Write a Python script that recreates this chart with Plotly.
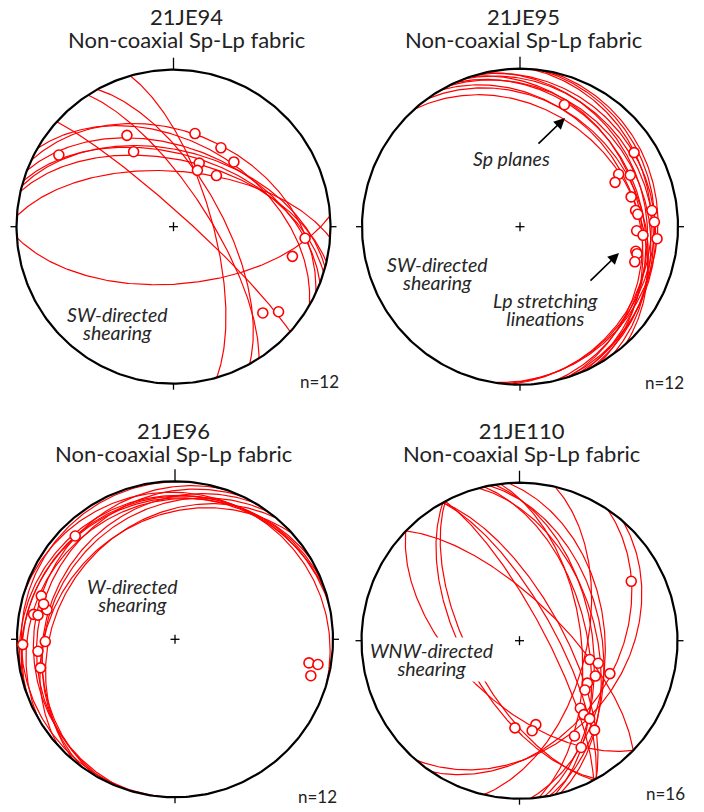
import numpy as np
import plotly.graph_objects as go

W, H = 704, 812

# ---------------- data (Sp planes: strike RHR / dip ; Lp lineations: trend / plunge) -------------
p1_name = "21JE94"
p1_sp_strike = [86, 274, 312, 344, 331, 327, 300, 291, 287, 283, 295, 285]
p1_sp_dip = [60, 61, 83, 70, 65, 72, 45, 48, 52, 55, 40, 50]
p1_lp_trend = [333, 13, 302, 332, 31, 43, 22, 23, 40, 95, 104, 134, 129]
p1_lp_plunge = [35, 39, 15, 45, 41, 43, 54, 58, 55, 17, 23, 22, 15]
p1_n = "n=12"

p2_name = "21JE95"
p2_sp_strike = [318, 324, 330, 333, 336, 339, 342, 344, 347, 4, 7, 10]
p2_sp_dip = [30, 26, 28, 21, 24, 18, 25, 16, 21, 18, 16, 14]
p2_lp_trend = [20, 57, 62, 65, 65, 75, 82, 84, 83, 88, 92, 94, 95, 102, 103, 107]
p2_lp_plunge = [19, 15, 30, 34, 24, 28, 27, 26, 17, 16, 27, 23, 14, 26, 25, 25]
p2_n = "n=12"

p3_name = "21JE96"
p3_sp_strike = [184, 198, 205, 210, 216, 220, 228, 249, 253, 258, 287, 240]
p3_sp_dip = [3, 12, 15, 20, 22, 27, 26, 11, 12, 10, 8, 14]
p3_lp_trend = [268, 265, 269, 258, 288, 283, 285, 280, 280, 316, 100, 100, 105]
p3_lp_plunge = [4, 14, 19, 14, 12, 18, 15, 10, 13, 10, 15, 9, 12]
p3_n = "n=12"

p4_name = "21JE110"
p4_sp_strike = [314, 134, 151, 152, 331, 331, 332, 345, 347, 349, 351, 353, 356, 13, 34, 41]
p4_sp_dip = [69, 58, 61, 64, 68, 72, 77, 50, 55, 47, 52, 58, 45, 55, 39, 35]
p4_lp_trend = [62, 105, 106, 110, 115, 122, 127, 138, 139, 138, 140, 150, 150, 183, 169, 172]
p4_lp_plunge = [21, 52, 47, 39, 46, 48, 47, 42, 38, 34, 27, 31, 23, 44, 45, 42]
p4_n = "n=16"

subtitle = "Non-coaxial Sp-Lp fabric"

# ---------------- projection helpers (equal-area, lower hemisphere) -------------
SQ2 = np.sqrt(2.0)


def proj_line(trend, plunge):
    t = np.radians(np.asarray(trend, float))
    p = np.radians(np.asarray(plunge, float))
    r = SQ2 * np.sin((np.pi / 2 - p) / 2)
    return r * np.sin(t), r * np.cos(t)


def proj_plane(strike, dip, n=181):
    s = np.radians(strike)
    dd = s + np.pi / 2
    d = np.radians(dip)
    rake = np.linspace(0, np.pi, n)
    sv = np.array([np.cos(s), np.sin(s), 0.0])
    dv = np.array([np.cos(dd) * np.cos(d), np.sin(dd) * np.cos(d), np.sin(d)])
    v = np.outer(np.cos(rake), sv) + np.outer(np.sin(rake), dv)
    down = np.clip(v[:, 2], -1, 1)
    plunge = np.degrees(np.arcsin(down))
    trend = np.degrees(np.arctan2(v[:, 1], v[:, 0]))
    return proj_line(trend, plunge)


# ---------------- layout geometry (pixels) -------------
panels = [
    dict(name=p1_name, strike=p1_sp_strike, dip=p1_sp_dip, trend=p1_lp_trend, plunge=p1_lp_plunge,
         n=p1_n, cx=173.5, cy=226.7, R=157, box=(0, 352, 45, 400),
         title_x=186.5, title_y=28.5, n_pos=(319, 381)),
    dict(name=p2_name, strike=p2_sp_strike, dip=p2_sp_dip, trend=p2_lp_trend, plunge=p2_lp_plunge,
         n=p2_n, cx=520, cy=226.7, R=158, box=(352, 704, 45, 400),
         title_x=523.7, title_y=28.5, n_pos=(664, 382)),
    dict(name=p3_name, strike=p3_sp_strike, dip=p3_sp_dip, trend=p3_lp_trend, plunge=p3_lp_plunge,
         n=p3_n, cx=175, cy=639.3, R=158, box=(0, 352, 465, 812),
         title_x=173.3, title_y=442.5, n_pos=(317, 796)),
    dict(name=p4_name, strike=p4_sp_strike, dip=p4_sp_dip, trend=p4_lp_trend, plunge=p4_lp_plunge,
         n=p4_n, cx=519.5, cy=640.7, R=158, box=(352, 704, 465, 812),
         title_x=521.5, title_y=442.5, n_pos=(665, 793)),
]

RED = "#ff0000"
TXT = "#222222"
FONT = "Lato"

fig = go.Figure()
layout = dict(width=W, height=H, margin=dict(l=0, r=0, t=0, b=0), autosize=False,
              paper_bgcolor="white", plot_bgcolor="rgba(0,0,0,0)", showlegend=False)
annotations = []


def px2paper(x, y):
    return x / W, 1 - y / H


def stack(lines, size, italic=False):
    out = []
    for ln in lines:
        t = '<span style="font-size:%spx">%s</span>' % (size, ln)
        out.append("<i>%s</i>" % t if italic else t)
    return "<br>".join(out)


for i, p in enumerate(panels):
    k = "" if i == 0 else str(i + 1)
    xa, ya = "x" + k, "y" + k
    R, cx, cy = p["R"], p["cx"], p["cy"]
    x0, x1, y0, y1 = p["box"]
    layout["xaxis" + k] = dict(domain=[x0 / W, x1 / W], range=[(x0 - cx) / R, (x1 - cx) / R],
                               visible=False, fixedrange=True)
    layout["yaxis" + k] = dict(domain=[1 - y1 / H, 1 - y0 / H], range=[(cy - y1) / R, (cy - y0) / R],
                               visible=False, fixedrange=True)

    # great circles (Sp planes)
    gx, gy = [], []
    for s, d in zip(p["strike"], p["dip"]):
        x, y = proj_plane(s, d)
        gx += list(x) + [None]
        gy += list(y) + [None]
    fig.add_trace(go.Scatter(x=gx, y=gy, mode="lines", line=dict(color=RED, width=1.2),
                             xaxis=xa, yaxis=ya, hoverinfo="skip"))

    # primitive circle
    th = np.linspace(0, 2 * np.pi, 361)
    fig.add_trace(go.Scatter(x=np.sin(th), y=np.cos(th), mode="lines",
                             line=dict(color="black", width=2.2), xaxis=xa, yaxis=ya, hoverinfo="skip"))
    # ticks + centre cross
    tn = 12 / R
    to = 6 / R
    c = 4.5 / R
    tx = [0, 0, None, 1, 1 + to, None, 0, 0, None, -1, -1 - to, None, -c, c, None, 0, 0]
    ty = [1, 1 + tn, None, 0, 0, None, -1, -1 - to, None, 0, 0, None, 0, 0, None, -c, c]
    fig.add_trace(go.Scatter(x=tx, y=ty, mode="lines", line=dict(color="black", width=1.3),
                             xaxis=xa, yaxis=ya, hoverinfo="skip"))

    # Lp lineations
    lx, ly = proj_line(p["trend"], p["plunge"])
    fig.add_trace(go.Scatter(x=lx, y=ly, mode="markers",
                             marker=dict(symbol="circle", size=10, color="white",
                                         line=dict(color=RED, width=1.6)),
                             xaxis=xa, yaxis=ya, hoverinfo="skip", cliponaxis=False))

    # title (two lines, tight spacing)
    ax_, ay_ = px2paper(p["title_x"], p["title_y"])
    annotations.append(dict(x=ax_, y=ay_, xref="paper", yref="paper",
                            text=stack([p["name"], subtitle], 22), showarrow=False,
                            xanchor="center", yanchor="middle", align="center",
                            font=dict(family=FONT, size=23 / 1.3, color=TXT)))
    nx_, ny_ = px2paper(*p["n_pos"])
    annotations.append(dict(x=nx_, y=ny_, xref="paper", yref="paper", text=p["n"], showarrow=False,
                            xanchor="center", yanchor="middle", font=dict(family=FONT, size=17, color=TXT)))

# italic labels: (lines, centre x, centre y, white background)
labels = [
    (["SW-directed", "shearing"], 117, 323, False),
    (["Sp planes"], 511, 158, False),
    (["SW-directed", "shearing"], 437, 273.5, False),
    (["Lp stretching", "lineations"], 545, 309.5, False),
    (["W-directed", "shearing"], 132, 595.5, False),
    (["WNW-directed", "shearing"], 432, 659, True),
]
for lines, x, y, bg in labels:
    ax_, ay_ = px2paper(x, y)
    annotations.append(dict(x=ax_, y=ay_, xref="paper", yref="paper", text=stack(lines, 19.5, True),
                            showarrow=False, xanchor="center", yanchor="middle", align="center",
                            bgcolor="white" if bg else "rgba(0,0,0,0)", borderpad=1,
                            font=dict(family=FONT, size=18 / 1.3, color="#262626")))

# arrows in panel 2 (head position, tail position in px)
for hx, hy, tx_, ty2 in [(565, 118, 537, 145), (619, 253, 589, 282)]:
    ax_, ay_ = px2paper(hx, hy)
    annotations.append(dict(x=ax_, y=ay_, xref="paper", yref="paper", text="", showarrow=True,
                            ax=tx_ - hx, ay=ty2 - hy, arrowhead=2, arrowsize=1.3, arrowwidth=1.7,
                            arrowcolor="black"))

layout["annotations"] = annotations
fig.update_layout(**layout)
fig.write_html("out.html", config={"displayModeBar": False, "staticPlot": True},
               post_script="document.body.style.margin='0';document.body.style.overflow='hidden';")
